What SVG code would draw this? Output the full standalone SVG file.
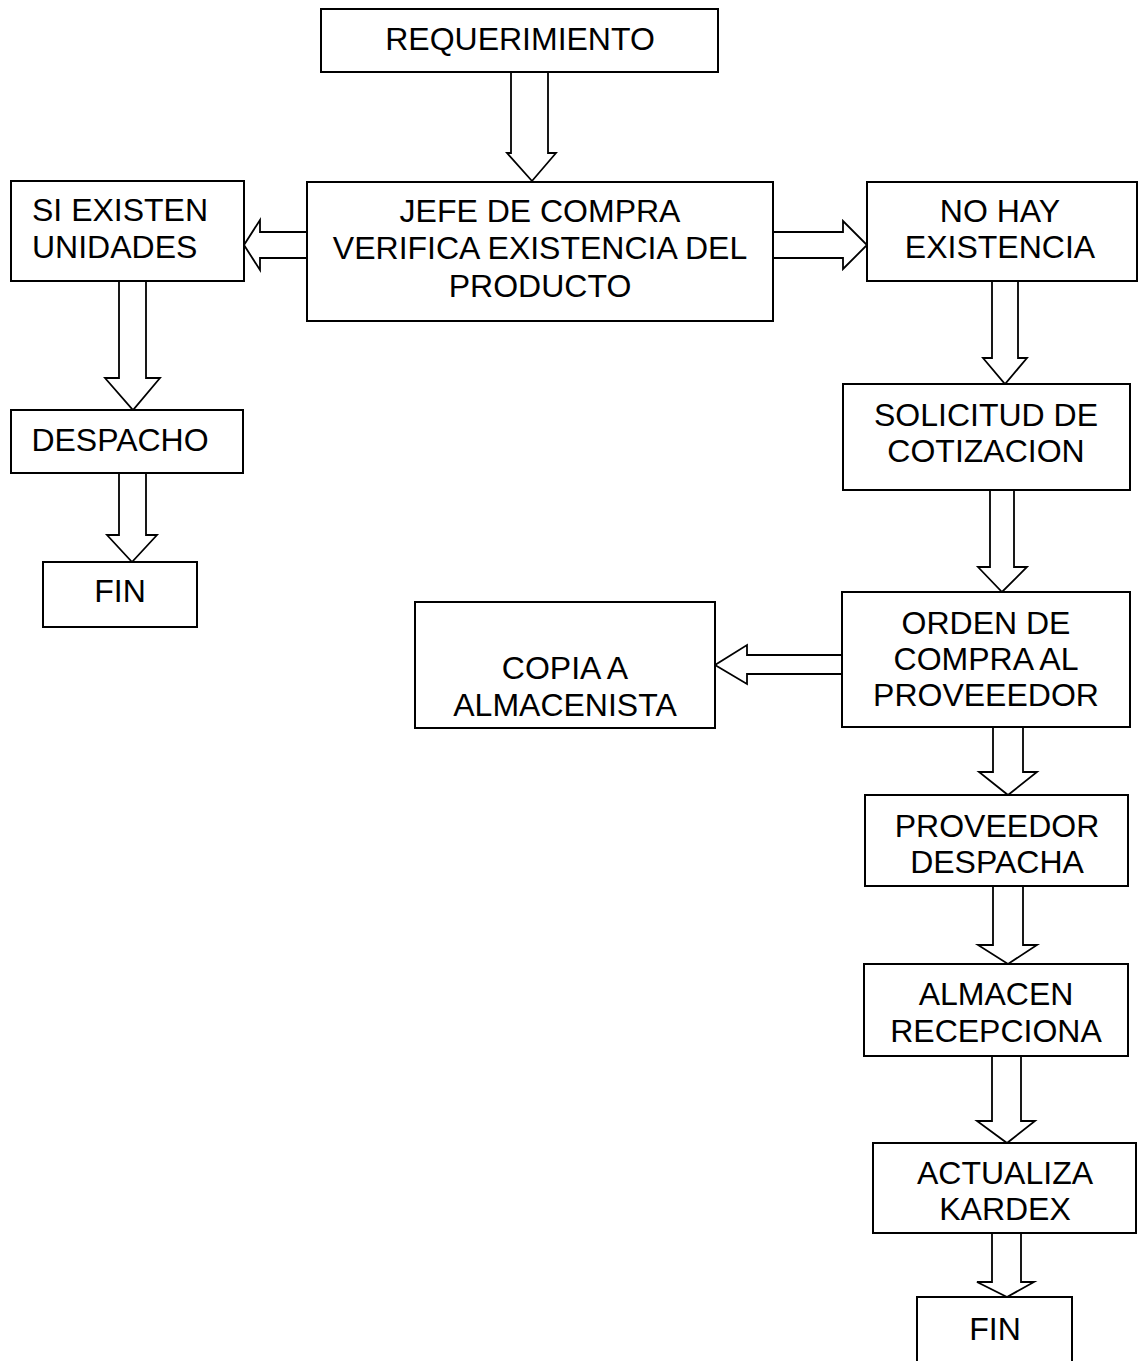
<svg xmlns="http://www.w3.org/2000/svg" width="1139" height="1361" viewBox="0 0 1139 1361">
<style>
.box{fill:#fff;stroke:#000;stroke-width:2}
.arr{fill:#fff;stroke:#000;stroke-width:1.8;stroke-linejoin:miter}
text{font-family:"Liberation Sans",Arial,sans-serif;font-size:32px;fill:#000;text-anchor:middle}
.l{text-anchor:start}
</style>
<rect width="1139" height="1361" fill="#fff"/>
<g id="connectors">
<path class="arr" d="M511,72 V153 H507 L532,181 L556,153 H548 V72"/>
<path class="arr" d="M307,232 H260 V220 L244,245 L260,270 V258 H307"/>
<path class="arr" d="M773,232 H843 V221 L867,245 L843,269 V258 H773"/>
<path class="arr" d="M119,281 V378 H105 L133,410 L160,378 H146 V281"/>
<path class="arr" d="M119,473 V535 H107 L132,562 L157,535 H146 V473"/>
<path class="arr" d="M992,281 V358 H983 L1005,384 L1027,358 H1018 V281"/>
<path class="arr" d="M990,490 V567 H978 L1002,592 L1027,567 H1014 V490"/>
<path class="arr" d="M842,655 H747 V645 L715,665 L747,684 V674 H842"/>
<path class="arr" d="M993,727 V772 H979 L1008,795 L1037,772 H1023 V727"/>
<path class="arr" d="M993,886 V945 H978 L1008,964 L1037,945 H1023 V886"/>
<path class="arr" d="M992,1056 V1121 H977 L1007,1143 L1035,1121 H1021 V1056"/>
<path class="arr" d="M992,1233 V1282 H977 L1007,1297 L1034,1282 H1021 V1233"/>
</g>
<g id="requerimiento"><rect class="box" x="321" y="9" width="397" height="63"/><text x="520" y="50">REQUERIMIENTO</text></g>
<g id="jefe"><rect class="box" x="307" y="182" width="466" height="139"/><text x="540" y="222">JEFE DE COMPRA</text><text x="540" y="259">VERIFICA EXISTENCIA DEL</text><text x="540" y="297">PRODUCTO</text></g>
<g id="si-existen"><rect class="box" x="11" y="181" width="233" height="100"/><text class="l" x="32" y="221">SI EXISTEN</text><text class="l" x="32" y="258">UNIDADES</text></g>
<g id="despacho"><rect class="box" x="11" y="410" width="232" height="63"/><text x="120" y="451">DESPACHO</text></g>
<g id="fin1"><rect class="box" x="43" y="562" width="154" height="65"/><text x="120" y="602">FIN</text></g>
<g id="no-hay"><rect class="box" x="867" y="182" width="270" height="99"/><text x="1000" y="222">NO HAY</text><text x="1000" y="258">EXISTENCIA</text></g>
<g id="solicitud"><rect class="box" x="843" y="384" width="287" height="106"/><text x="986" y="426">SOLICITUD DE</text><text x="986" y="462">COTIZACION</text></g>
<g id="orden"><rect class="box" x="842" y="592" width="288" height="135"/><text x="986" y="634">ORDEN DE</text><text x="986" y="670">COMPRA AL</text><text x="986" y="706">PROVEEEDOR</text></g>
<g id="copia"><rect class="box" x="415" y="602" width="300" height="126"/><text x="565" y="679">COPIA A</text><text x="565" y="716">ALMACENISTA</text></g>
<g id="proveedor"><rect class="box" x="865" y="795" width="263" height="91"/><text x="997" y="837">PROVEEDOR</text><text x="997" y="873">DESPACHA</text></g>
<g id="almacen"><rect class="box" x="864" y="964" width="264" height="92"/><text x="996" y="1005">ALMACEN</text><text x="996" y="1042">RECEPCIONA</text></g>
<g id="actualiza"><rect class="box" x="873" y="1143" width="263" height="90"/><text x="1005" y="1184">ACTUALIZA</text><text x="1005" y="1220">KARDEX</text></g>
<g id="fin2"><rect class="box" x="917" y="1297" width="155" height="80"/><text x="995" y="1340">FIN</text></g>
</svg>
